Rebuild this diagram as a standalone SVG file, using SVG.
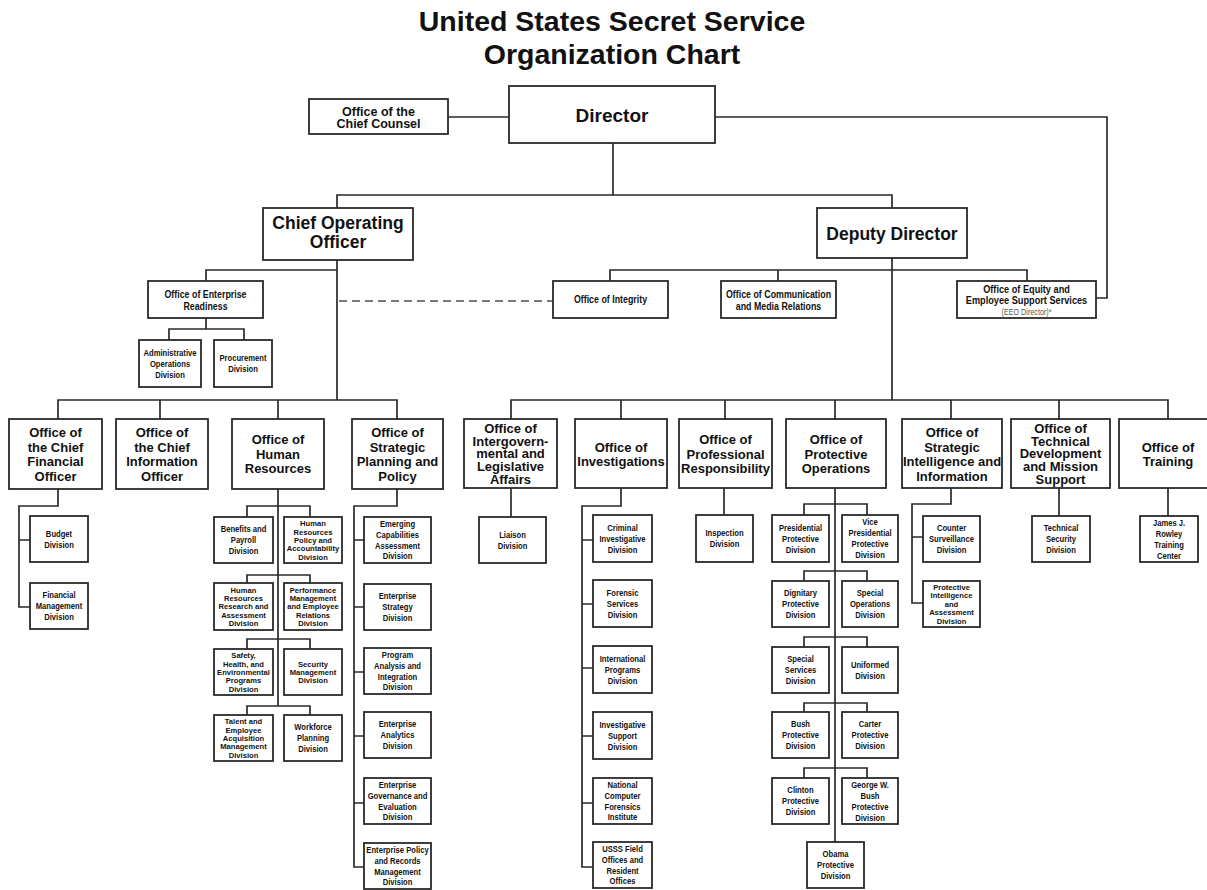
<svg xmlns="http://www.w3.org/2000/svg" width="1207" height="890" viewBox="0 0 1207 890">
<style>
.box{fill:#fff;stroke:#2a2a2a;stroke-width:1.8}
.ln{fill:none;stroke:#2a2a2a;stroke-width:1.7}
.dash{fill:none;stroke:#7a7a7a;stroke-width:2;stroke-dasharray:8 5}
text{fill:#111;text-anchor:middle;font-family:"Liberation Sans",Arial,sans-serif;font-weight:bold}
.title{font-size:28.5px}
.top{font-size:19px}
.big{font-size:17.5px}
.cc{font-size:12.5px}
.off{font-size:13px}
.mid{font-size:10.8px}
.eq{font-size:11.2px}
.div{font-size:9.3px}
.d5{font-size:8px}
.eeo{font-size:8.8px;font-weight:normal;fill:#555}
</style>
<rect width="1207" height="890" fill="#fff"/>
<g id="title"><text class="title"><tspan x="612" y="31">United States Secret Service</tspan><tspan x="612" y="64">Organization Chart</tspan></text></g>

<g id="connectors">
<path class="ln" d="M448 117H509M715 117H1107V298H1096"/>
<path class="ln" d="M613 143V195M337 208V195H892V208"/>
<path class="ln" d="M337 260V400M206 281V270H337M206 318V329M169 340V329H244V340"/>
<path class="dash" d="M339 301H553"/>
<path class="ln" d="M892 258V400M610 281V270H1027V281M778 270V281"/>
<path class="ln" d="M58 419V400H397V419M160 400V419M278 400V419"/>
<path class="ln" d="M511 419V400H1168V419M621 400V419M725 400V419M835 400V419M951 400V419M1059 400V419"/>
<path class="ln" d="M58 489V506H19V607H30M19 540H30"/>
<path class="ln" d="M278 489V706M247 517V506H310V517M247 583V575H310V583M247 649V639H310V649M247 715V706H310V715"/>
<path class="ln" d="M397 489V506H354V867H364M354 540H364M354 607H364M354 672H364M354 736H364M354 803H364"/>
<path class="ln" d="M511 488V517"/>
<path class="ln" d="M621 488V506H582V867H593M582 540H593M582 604H593M582 668H593M582 736H593M582 803H593"/>
<path class="ln" d="M724 488V515"/>
<path class="ln" d="M835 488V842M804 515V504H867V515M804 581V571H867V581M804 647V637H867V647M804 712V703H867V712M804 778V768H867V778"/>
<path class="ln" d="M951 488V504H912V603H923M912 537H923"/>
<path class="ln" d="M1059 488V516M1168 488V516"/>
</g>

<g id="director"><rect class="box" x="509" y="86" width="206" height="57"/><text class="top" x="612" y="122">Director</text></g>
<g id="chief-counsel"><rect class="box" x="309" y="99" width="139" height="35"/><text class="cc"><tspan x="378.5" y="116">Office of the</tspan><tspan x="378.5" y="128">Chief Counsel</tspan></text></g>
<g id="coo"><rect class="box" x="263" y="208" width="150" height="52"/><text class="big"><tspan x="338" y="229">Chief Operating</tspan><tspan x="338" y="248">Officer</tspan></text></g>
<g id="deputy-director"><rect class="box" x="817" y="208" width="150" height="50"/><text class="big" x="892" y="239.5">Deputy Director</text></g>

<g id="enterprise-readiness"><rect class="box" x="148" y="281" width="115" height="37"/><text class="mid" transform="matrix(.82 0 0 1 205.5 0)"><tspan x="0" y="298">Office of Enterprise</tspan><tspan x="0" y="310">Readiness</tspan></text></g>
<g id="admin-ops"><rect class="box" x="139" y="340" width="62" height="47"/><text class="div" transform="matrix(.82 0 0 1 170 0)"><tspan x="0" y="355.8">Administrative</tspan><tspan x="0" y="366.8">Operations</tspan><tspan x="0" y="377.8">Division</tspan></text></g>
<g id="procurement"><rect class="box" x="214" y="340" width="58" height="47"/><text class="div" transform="matrix(.82 0 0 1 243 0)"><tspan x="0" y="361.3">Procurement</tspan><tspan x="0" y="372.3">Division</tspan></text></g>

<g id="integrity"><rect class="box" x="553" y="281" width="115" height="37"/><text class="mid" transform="matrix(.82 0 0 1 610.5 0)" x="0" y="303.5">Office of Integrity</text></g>
<g id="communication"><rect class="box" x="721" y="281" width="115" height="37"/><text class="mid" transform="matrix(.82 0 0 1 778.5 0)"><tspan x="0" y="298">Office of Communication</tspan><tspan x="0" y="310">and Media Relations</tspan></text></g>
<g id="equity"><rect class="box" x="957" y="281" width="139" height="37"/><text class="eq" transform="matrix(.82 0 0 1 1026.5 0)"><tspan x="0" y="293">Office of Equity and</tspan><tspan x="0" y="304.5">Employee Support Services</tspan></text><text class="eeo" transform="matrix(.82 0 0 1 1026.5 0)" x="0" y="315.5">(EEO Director)*</text></g>

<g id="cfo"><rect class="box" x="9" y="419" width="93" height="70"/><text class="off"><tspan x="55.5" y="437">Office of</tspan><tspan x="55.5" y="451.5">the Chief</tspan><tspan x="55.5" y="466">Financial</tspan><tspan x="55.5" y="480.5">Officer</tspan></text></g>
<g id="cio"><rect class="box" x="116" y="419" width="92" height="70"/><text class="off"><tspan x="162" y="437">Office of</tspan><tspan x="162" y="451.5">the Chief</tspan><tspan x="162" y="466">Information</tspan><tspan x="162" y="480.5">Officer</tspan></text></g>
<g id="hr"><rect class="box" x="232" y="419" width="92" height="70"/><text class="off"><tspan x="278" y="444.2">Office of</tspan><tspan x="278" y="458.7">Human</tspan><tspan x="278" y="473.2">Resources</tspan></text></g>
<g id="spp"><rect class="box" x="352" y="419" width="91" height="70"/><text class="off"><tspan x="397.5" y="437">Office of</tspan><tspan x="397.5" y="451.5">Strategic</tspan><tspan x="397.5" y="466">Planning and</tspan><tspan x="397.5" y="480.5">Policy</tspan></text></g>
<g id="intergov"><rect class="box" x="464" y="419" width="93" height="69"/><text class="off"><tspan x="510.5" y="432.8">Office of</tspan><tspan x="510.5" y="445.5">Intergovern-</tspan><tspan x="510.5" y="458.2">mental and</tspan><tspan x="510.5" y="470.9">Legislative</tspan><tspan x="510.5" y="483.6">Affairs</tspan></text></g>
<g id="investigations"><rect class="box" x="575" y="419" width="92" height="69"/><text class="off"><tspan x="621" y="451.7">Office of</tspan><tspan x="621" y="466.2">Investigations</tspan></text></g>
<g id="opr"><rect class="box" x="679" y="419" width="93" height="69"/><text class="off"><tspan x="725.5" y="444.2">Office of</tspan><tspan x="725.5" y="458.7">Professional</tspan><tspan x="725.5" y="473.2">Responsibility</tspan></text></g>
<g id="opo"><rect class="box" x="786" y="419" width="100" height="69"/><text class="off"><tspan x="836" y="444.2">Office of</tspan><tspan x="836" y="458.7">Protective</tspan><tspan x="836" y="473.2">Operations</tspan></text></g>
<g id="osii"><rect class="box" x="902" y="419" width="100" height="69"/><text class="off"><tspan x="952" y="437">Office of</tspan><tspan x="952" y="451.5">Strategic</tspan><tspan x="952" y="466">Intelligence and</tspan><tspan x="952" y="480.5">Information</tspan></text></g>
<g id="tdms"><rect class="box" x="1011" y="419" width="99" height="69"/><text class="off"><tspan x="1060.5" y="432.8">Office of</tspan><tspan x="1060.5" y="445.5">Technical</tspan><tspan x="1060.5" y="458.2">Development</tspan><tspan x="1060.5" y="470.9">and Mission</tspan><tspan x="1060.5" y="483.6">Support</tspan></text></g>
<g id="training"><rect class="box" x="1119" y="419" width="98" height="69"/><text class="off"><tspan x="1168" y="451.7">Office of</tspan><tspan x="1168" y="466.2">Training</tspan></text></g>

<g id="budget"><rect class="box" x="30" y="516" width="58" height="46"/><text class="div" transform="matrix(.82 0 0 1 59 0)"><tspan x="0" y="537">Budget</tspan><tspan x="0" y="548">Division</tspan></text></g>
<g id="financial-mgmt"><rect class="box" x="30" y="583" width="58" height="46"/><text class="div" transform="matrix(.82 0 0 1 59 0)"><tspan x="0" y="598.3">Financial</tspan><tspan x="0" y="609.3">Management</tspan><tspan x="0" y="620.3">Division</tspan></text></g>

<g id="benefits"><rect class="box" x="214" y="517" width="59" height="46"/><text class="div" transform="matrix(.82 0 0 1 243.5 0)"><tspan x="0" y="532.3">Benefits and</tspan><tspan x="0" y="543.3">Payroll</tspan><tspan x="0" y="554.3">Division</tspan></text></g>
<g id="hr-policy"><rect class="box" x="284" y="517" width="58" height="46"/><text class="d5" transform="matrix(.95 0 0 1 313 0)"><tspan x="0" y="526.4">Human</tspan><tspan x="0" y="534.7">Resources</tspan><tspan x="0" y="543">Policy and</tspan><tspan x="0" y="551.3">Accountability</tspan><tspan x="0" y="559.6">Division</tspan></text></g>
<g id="hr-research"><rect class="box" x="214" y="583" width="59" height="47"/><text class="d5" transform="matrix(.95 0 0 1 243.5 0)"><tspan x="0" y="593">Human</tspan><tspan x="0" y="601.2">Resources</tspan><tspan x="0" y="609.5">Research and</tspan><tspan x="0" y="617.8">Assessment</tspan><tspan x="0" y="626">Division</tspan></text></g>
<g id="performance"><rect class="box" x="284" y="583" width="58" height="47"/><text class="d5" transform="matrix(.95 0 0 1 313 0)"><tspan x="0" y="593">Performance</tspan><tspan x="0" y="601.2">Management</tspan><tspan x="0" y="609.5">and Employee</tspan><tspan x="0" y="617.8">Relations</tspan><tspan x="0" y="626">Division</tspan></text></g>
<g id="safety"><rect class="box" x="214" y="649" width="59" height="46"/><text class="d5" transform="matrix(.95 0 0 1 243.5 0)"><tspan x="0" y="658.4">Safety,</tspan><tspan x="0" y="666.7">Health, and</tspan><tspan x="0" y="675">Environmental</tspan><tspan x="0" y="683.3">Programs</tspan><tspan x="0" y="691.6">Division</tspan></text></g>
<g id="security-mgmt"><rect class="box" x="284" y="649" width="58" height="46"/><text class="d5" transform="matrix(.95 0 0 1 313 0)"><tspan x="0" y="666.7">Security</tspan><tspan x="0" y="675">Management</tspan><tspan x="0" y="683.3">Division</tspan></text></g>
<g id="talent"><rect class="box" x="214" y="715" width="59" height="46"/><text class="d5" transform="matrix(.95 0 0 1 243.5 0)"><tspan x="0" y="724.4">Talent and</tspan><tspan x="0" y="732.7">Employee</tspan><tspan x="0" y="741">Acquisition</tspan><tspan x="0" y="749.3">Management</tspan><tspan x="0" y="757.6">Division</tspan></text></g>
<g id="workforce"><rect class="box" x="284" y="715" width="58" height="46"/><text class="div" transform="matrix(.82 0 0 1 313 0)"><tspan x="0" y="730.3">Workforce</tspan><tspan x="0" y="741.3">Planning</tspan><tspan x="0" y="752.3">Division</tspan></text></g>

<g id="emerging"><rect class="box" x="364" y="517" width="67" height="46"/><text class="div" transform="matrix(.82 0 0 1 397.5 0)"><tspan x="0" y="527.1">Emerging</tspan><tspan x="0" y="537.9">Capabilities</tspan><tspan x="0" y="548.7">Assessment</tspan><tspan x="0" y="559.5">Division</tspan></text></g>
<g id="ent-strategy"><rect class="box" x="364" y="584" width="67" height="46"/><text class="div" transform="matrix(.82 0 0 1 397.5 0)"><tspan x="0" y="599.3">Enterprise</tspan><tspan x="0" y="610.3">Strategy</tspan><tspan x="0" y="621.3">Division</tspan></text></g>
<g id="program-analysis"><rect class="box" x="364" y="648" width="67" height="46"/><text class="div" transform="matrix(.82 0 0 1 397.5 0)"><tspan x="0" y="658.1">Program</tspan><tspan x="0" y="668.9">Analysis and</tspan><tspan x="0" y="679.7">Integration</tspan><tspan x="0" y="690.5">Division</tspan></text></g>
<g id="ent-analytics"><rect class="box" x="364" y="712" width="67" height="46"/><text class="div" transform="matrix(.82 0 0 1 397.5 0)"><tspan x="0" y="727.3">Enterprise</tspan><tspan x="0" y="738.3">Analytics</tspan><tspan x="0" y="749.3">Division</tspan></text></g>
<g id="ent-governance"><rect class="box" x="364" y="778" width="67" height="46"/><text class="div" transform="matrix(.82 0 0 1 397.5 0)"><tspan x="0" y="788.1">Enterprise</tspan><tspan x="0" y="798.9">Governance and</tspan><tspan x="0" y="809.7">Evaluation</tspan><tspan x="0" y="820.5">Division</tspan></text></g>
<g id="ent-policy"><rect class="box" x="364" y="843" width="67" height="46"/><text class="div" transform="matrix(.82 0 0 1 397.5 0)"><tspan x="0" y="853.1">Enterprise Policy</tspan><tspan x="0" y="863.9">and Records</tspan><tspan x="0" y="874.7">Management</tspan><tspan x="0" y="885.5">Division</tspan></text></g>

<g id="liaison"><rect class="box" x="479" y="517" width="67" height="46"/><text class="div" transform="matrix(.82 0 0 1 512.5 0)"><tspan x="0" y="537.8">Liaison</tspan><tspan x="0" y="548.8">Division</tspan></text></g>

<g id="criminal"><rect class="box" x="593" y="515" width="59" height="47"/><text class="div" transform="matrix(.82 0 0 1 622.5 0)"><tspan x="0" y="530.8">Criminal</tspan><tspan x="0" y="541.8">Investigative</tspan><tspan x="0" y="552.8">Division</tspan></text></g>
<g id="forensic"><rect class="box" x="593" y="580" width="59" height="47"/><text class="div" transform="matrix(.82 0 0 1 622.5 0)"><tspan x="0" y="595.8">Forensic</tspan><tspan x="0" y="606.8">Services</tspan><tspan x="0" y="617.8">Division</tspan></text></g>
<g id="international"><rect class="box" x="593" y="646" width="59" height="47"/><text class="div" transform="matrix(.82 0 0 1 622.5 0)"><tspan x="0" y="661.8">International</tspan><tspan x="0" y="672.8">Programs</tspan><tspan x="0" y="683.8">Division</tspan></text></g>
<g id="inv-support"><rect class="box" x="593" y="712" width="59" height="47"/><text class="div" transform="matrix(.82 0 0 1 622.5 0)"><tspan x="0" y="727.8">Investigative</tspan><tspan x="0" y="738.8">Support</tspan><tspan x="0" y="749.8">Division</tspan></text></g>
<g id="ncfi"><rect class="box" x="593" y="778" width="59" height="46"/><text class="div" transform="matrix(.82 0 0 1 622.5 0)"><tspan x="0" y="788.1">National</tspan><tspan x="0" y="798.9">Computer</tspan><tspan x="0" y="809.7">Forensics</tspan><tspan x="0" y="820.5">Institute</tspan></text></g>
<g id="field-offices"><rect class="box" x="593" y="842" width="59" height="46"/><text class="div" transform="matrix(.82 0 0 1 622.5 0)"><tspan x="0" y="852.1">USSS Field</tspan><tspan x="0" y="862.9">Offices and</tspan><tspan x="0" y="873.7">Resident</tspan><tspan x="0" y="884.5">Offices</tspan></text></g>

<g id="inspection"><rect class="box" x="696" y="515" width="57" height="47"/><text class="div" transform="matrix(.82 0 0 1 724.5 0)"><tspan x="0" y="536.3">Inspection</tspan><tspan x="0" y="547.3">Division</tspan></text></g>

<g id="presidential"><rect class="box" x="772" y="515" width="57" height="47"/><text class="div" transform="matrix(.82 0 0 1 800.5 0)"><tspan x="0" y="530.8">Presidential</tspan><tspan x="0" y="541.8">Protective</tspan><tspan x="0" y="552.8">Division</tspan></text></g>
<g id="vice-presidential"><rect class="box" x="842" y="515" width="56" height="47"/><text class="div" transform="matrix(.82 0 0 1 870 0)"><tspan x="0" y="525.3">Vice</tspan><tspan x="0" y="536.3">Presidential</tspan><tspan x="0" y="547.3">Protective</tspan><tspan x="0" y="558.3">Division</tspan></text></g>
<g id="dignitary"><rect class="box" x="772" y="581" width="57" height="46"/><text class="div" transform="matrix(.82 0 0 1 800.5 0)"><tspan x="0" y="596.3">Dignitary</tspan><tspan x="0" y="607.3">Protective</tspan><tspan x="0" y="618.3">Division</tspan></text></g>
<g id="special-ops"><rect class="box" x="842" y="581" width="56" height="46"/><text class="div" transform="matrix(.82 0 0 1 870 0)"><tspan x="0" y="596.3">Special</tspan><tspan x="0" y="607.3">Operations</tspan><tspan x="0" y="618.3">Division</tspan></text></g>
<g id="special-services"><rect class="box" x="772" y="647" width="57" height="46"/><text class="div" transform="matrix(.82 0 0 1 800.5 0)"><tspan x="0" y="662.3">Special</tspan><tspan x="0" y="673.3">Services</tspan><tspan x="0" y="684.3">Division</tspan></text></g>
<g id="uniformed"><rect class="box" x="842" y="647" width="56" height="46"/><text class="div" transform="matrix(.82 0 0 1 870 0)"><tspan x="0" y="667.8">Uniformed</tspan><tspan x="0" y="678.8">Division</tspan></text></g>
<g id="bush"><rect class="box" x="772" y="712" width="57" height="46"/><text class="div" transform="matrix(.82 0 0 1 800.5 0)"><tspan x="0" y="727.3">Bush</tspan><tspan x="0" y="738.3">Protective</tspan><tspan x="0" y="749.3">Division</tspan></text></g>
<g id="carter"><rect class="box" x="842" y="712" width="56" height="46"/><text class="div" transform="matrix(.82 0 0 1 870 0)"><tspan x="0" y="727.3">Carter</tspan><tspan x="0" y="738.3">Protective</tspan><tspan x="0" y="749.3">Division</tspan></text></g>
<g id="clinton"><rect class="box" x="772" y="778" width="57" height="46"/><text class="div" transform="matrix(.82 0 0 1 800.5 0)"><tspan x="0" y="793.3">Clinton</tspan><tspan x="0" y="804.3">Protective</tspan><tspan x="0" y="815.3">Division</tspan></text></g>
<g id="gw-bush"><rect class="box" x="842" y="778" width="56" height="46"/><text class="div" transform="matrix(.82 0 0 1 870 0)"><tspan x="0" y="787.8">George W.</tspan><tspan x="0" y="798.8">Bush</tspan><tspan x="0" y="809.8">Protective</tspan><tspan x="0" y="820.8">Division</tspan></text></g>
<g id="obama"><rect class="box" x="807" y="842" width="57" height="46"/><text class="div" transform="matrix(.82 0 0 1 835.5 0)"><tspan x="0" y="857.3">Obama</tspan><tspan x="0" y="868.3">Protective</tspan><tspan x="0" y="879.3">Division</tspan></text></g>

<g id="counter-surveillance"><rect class="box" x="923" y="516" width="57" height="46"/><text class="div" transform="matrix(.82 0 0 1 951.5 0)"><tspan x="0" y="531.3">Counter</tspan><tspan x="0" y="542.3">Surveillance</tspan><tspan x="0" y="553.3">Division</tspan></text></g>
<g id="protective-intel"><rect class="box" x="923" y="581" width="57" height="46"/><text class="d5" transform="matrix(.95 0 0 1 951.5 0)"><tspan x="0" y="590">Protective</tspan><tspan x="0" y="598.5">Intelligence</tspan><tspan x="0" y="607">and</tspan><tspan x="0" y="615.5">Assessment</tspan><tspan x="0" y="624">Division</tspan></text></g>
<g id="technical-security"><rect class="box" x="1032" y="516" width="58" height="46"/><text class="div" transform="matrix(.82 0 0 1 1061 0)"><tspan x="0" y="531.3">Technical</tspan><tspan x="0" y="542.3">Security</tspan><tspan x="0" y="553.3">Division</tspan></text></g>
<g id="rowley"><rect class="box" x="1140" y="516" width="58" height="46"/><text class="div" transform="matrix(.82 0 0 1 1169 0)"><tspan x="0" y="525.8">James J.</tspan><tspan x="0" y="536.8">Rowley</tspan><tspan x="0" y="547.8">Training</tspan><tspan x="0" y="558.8">Center</tspan></text></g>
</svg>
